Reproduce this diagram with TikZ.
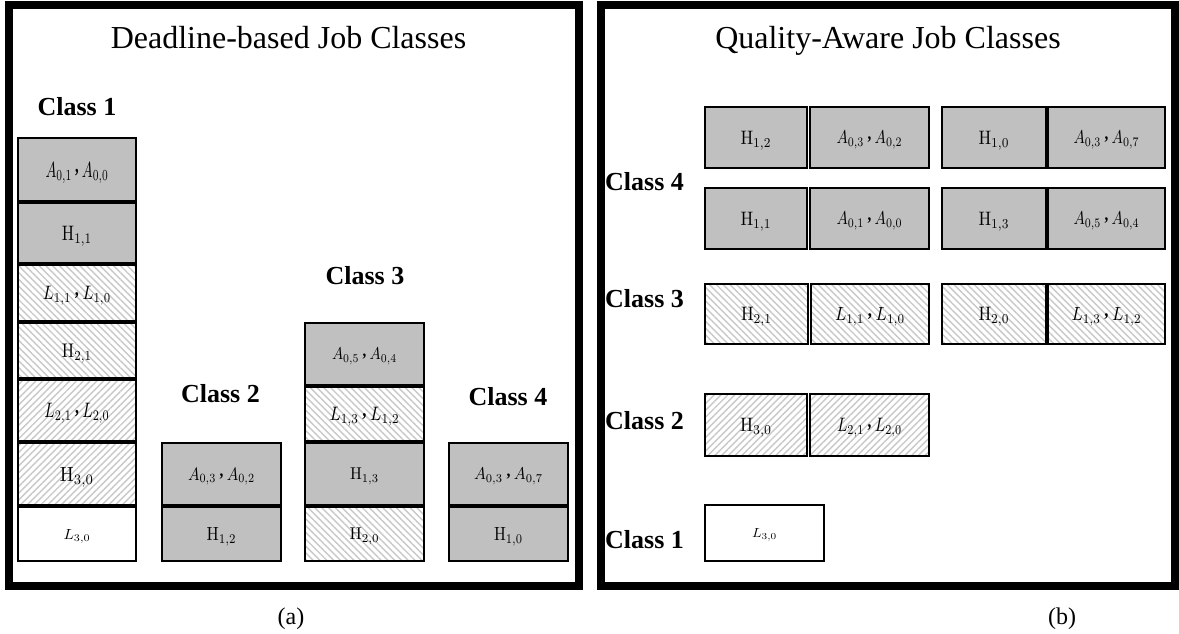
\RequirePackage{fix-cm}
\documentclass[tikz,border=0pt]{standalone}
\usepackage[no-math]{fontspec}
\usepackage{graphicx}
\setmainfont{Liberation Serif}
\usetikzlibrary{patterns.meta}
\definecolor{boxgray}{RGB}{192,192,192}
\definecolor{hatchgray}{RGB}{200,200,200}
\newcommand\pr[2]{$#1$\hspace{0.22em}\raisebox{0.22em}{\textbf{,}}\hspace{0.22em}$#2$}
\newcommand\lab[3]{\resizebox{#1pt}{#2pt}{#3}}
\newcommand\bx[7]{\node[#6, minimum width={#4-#2-2}, minimum height={#5-#3-2}] (#1) at ({(#2+#4)/2},{(#3+#5)/2}) {#7};}
\begin{document}
\begin{tikzpicture}[x=1pt,y=-1pt,
  cell/.style={draw, line width=2pt, inner sep=0pt, text depth=0pt},
  gbox/.style={cell, fill=boxgray},
  wbox/.style={cell, fill=white},
  hnw/.style={cell, pattern={Lines[angle=-45,distance=4.8pt,line width=1.4pt]}, pattern color=hatchgray},
  hne/.style={cell, pattern={Lines[angle=45,distance=4.8pt,line width=1.4pt]}, pattern color=hatchgray},
  classlbl/.style={inner sep=0pt, font=\fontsize{26}{26}\selectfont\bfseries},
  title/.style={inner sep=0pt, font=\fontsize{32}{32}\selectfont},
  caption/.style={inner sep=0pt, font=\fontsize{24}{24}\selectfont},
  frame/.style={line width=8pt}]
\useasboundingbox (0,0) rectangle (1179,634);
% frames
\draw[frame] (9,5) rectangle (578.5,586);
\draw[frame] (601,5) rectangle (1175,586);
% titles
\node[title, anchor=base] (ta) at (288.5,48.3) {Deadline-based Job Classes};
\node[title, anchor=base] (tb) at (888,48.3) {Quality-Aware Job Classes};
% ---- panel (a) ----
\node[classlbl, anchor=base] (ca1) at (77,116) {Class 1};
\node[classlbl, anchor=base] (ca2) at (220.5,402.7) {Class 2};
\node[classlbl, anchor=base] (ca3) at (365,284) {Class 3};
\node[classlbl, anchor=base] (ca4) at (508,405) {Class 4};
% class 1 column
\bx{a1}{17}{137}{137}{202}{gbox}{\lab{63}{15}{\pr{A_{0,1}}{A_{0,0}}}}
\bx{a2}{17}{202}{137}{264}{gbox}{\lab{30}{14.3}{$\mathrm{H}_{1,1}$}}
\bx{a3}{17}{264}{137}{322}{hnw}{\lab{68}{13.3}{\pr{L_{1,1}}{L_{1,0}}}}
\bx{a4}{17}{322}{137}{379}{hnw}{\lab{30}{13.5}{$\mathrm{H}_{2,1}$}}
\bx{a5}{17}{379}{137}{442}{hne}{\lab{65}{14.3}{\pr{L_{2,1}}{L_{2,0}}}}
\bx{a6}{17}{442}{137}{506}{hne}{\lab{34}{14}{$\mathrm{H}_{3,0}$}}
\bx{a7}{17}{506}{137}{562}{wbox}{\lab{27}{10}{$L_{3,0}$}}
% class 2 column
\bx{b1}{161}{442}{282}{506}{gbox}{\lab{67}{12.3}{\pr{A_{0,3}}{A_{0,2}}}}
\bx{b2}{161}{506}{282}{562}{gbox}{\lab{30}{13}{$\mathrm{H}_{1,2}$}}
% class 3 column
\bx{c1}{304}{322}{425}{386}{gbox}{\lab{65}{11.7}{\pr{A_{0,5}}{A_{0,4}}}}
\bx{c2}{304}{386}{425}{442}{hnw}{\lab{70}{13.3}{\pr{L_{1,3}}{L_{1,2}}}}
\bx{c3}{304}{442}{425}{506}{gbox}{\lab{29}{11.7}{$\mathrm{H}_{1,3}$}}
\bx{c4}{304}{506}{425}{562}{hnw}{\lab{30}{11.7}{$\mathrm{H}_{2,0}$}}
% class 4 column
\bx{d1}{448}{442}{569}{506}{gbox}{\lab{69}{11.7}{\pr{A_{0,3}}{A_{0,7}}}}
\bx{d2}{448}{506}{569}{562}{gbox}{\lab{29}{13}{$\mathrm{H}_{1,0}$}}
% ---- panel (b) ----
\node[classlbl, anchor=base west] (cb4) at (605,190) {Class 4};
\node[classlbl, anchor=base west] (cb3) at (605,307.7) {Class 3};
\node[classlbl, anchor=base west] (cb2) at (605,429.3) {Class 2};
\node[classlbl, anchor=base west] (cb1) at (605,548.3) {Class 1};
% class 4 rows
\bx{p1}{704}{106}{808}{169}{gbox}{\lab{31}{13.3}{$\mathrm{H}_{1,2}$}}
\bx{p2}{809}{106}{930}{169}{gbox}{\lab{66}{12.7}{\pr{A_{0,3}}{A_{0,2}}}}
\bx{p3}{941}{106}{1047}{169}{gbox}{\lab{31}{13.3}{$\mathrm{H}_{1,0}$}}
\bx{p4}{1047}{106}{1166}{169}{gbox}{\lab{66}{12.7}{\pr{A_{0,3}}{A_{0,7}}}}
\bx{q1}{704}{187}{808}{250}{gbox}{\lab{31}{13.3}{$\mathrm{H}_{1,1}$}}
\bx{q2}{809}{187}{930}{250}{gbox}{\lab{66}{12.7}{\pr{A_{0,1}}{A_{0,0}}}}
\bx{q3}{941}{187}{1047}{250}{gbox}{\lab{31}{13.3}{$\mathrm{H}_{1,3}$}}
\bx{q4}{1047}{187}{1166}{250}{gbox}{\lab{66}{12.7}{\pr{A_{0,5}}{A_{0,4}}}}
% class 3 row
\bx{r1}{704}{283}{809}{345}{hnw}{\lab{31}{13.3}{$\mathrm{H}_{2,1}$}}
\bx{r2}{810}{283}{930}{345}{hnw}{\lab{70}{13}{\pr{L_{1,1}}{L_{1,0}}}}
\bx{r3}{941}{283}{1047}{345}{hnw}{\lab{31}{13.3}{$\mathrm{H}_{2,0}$}}
\bx{r4}{1047}{283}{1166}{345}{hnw}{\lab{70}{13}{\pr{L_{1,3}}{L_{1,2}}}}
% class 2 row
\bx{s1}{704}{393}{808}{457}{hne}{\lab{32}{13.3}{$\mathrm{H}_{3,0}$}}
\bx{s2}{809}{393}{930}{457}{hne}{\lab{65}{13.3}{\pr{L_{2,1}}{L_{2,0}}}}
% class 1 row
\bx{t1}{704}{504}{825}{562}{wbox}{\lab{25}{9}{$L_{3,0}$}}
% captions
\node[caption, anchor=base] (capa) at (291,624) {(a)};
\node[caption, anchor=base] (capb) at (1062,624) {(b)};
\end{tikzpicture}
\end{document}
